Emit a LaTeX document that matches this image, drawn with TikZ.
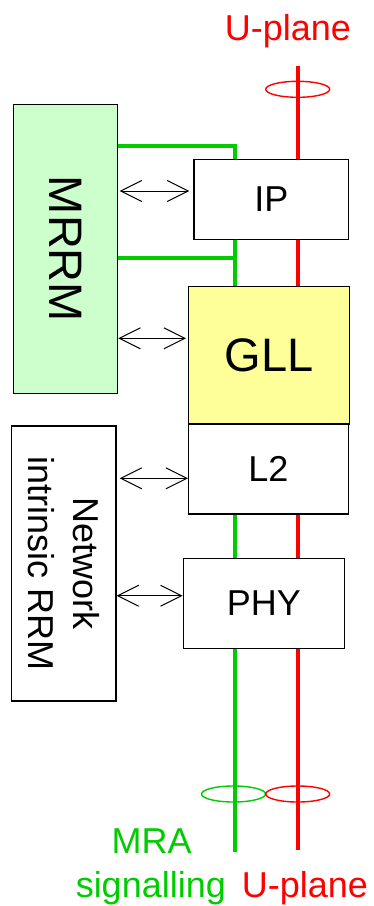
\documentclass[tikz,border=0pt]{standalone}
\usepackage{fontspec}
\setmainfont{Liberation Sans}
\usetikzlibrary{arrows.meta,backgrounds}
\definecolor{sigGreen}{RGB}{0,204,0}
\definecolor{mrrmFill}{RGB}{204,255,204}
\definecolor{gllFill}{RGB}{255,255,153}
\begin{document}
\begin{tikzpicture}[x=1pt,y=-1pt,
  box/.style={draw=black, line width=1.3pt, fill=white, inner sep=0pt, font=\fontsize{36}{45}\selectfont},
  sig/.style={draw=sigGreen, line width=3.6pt},
  upl/.style={draw=red, line width=3.6pt},
  biarrow/.style={line width=1pt, {Straight Barb[length=21pt,width=21pt]}-{Straight Barb[length=21pt,width=21pt]}},
  ring/.style={line width=1.4pt},
  lbl/.style={font=\fontsize{36}{45}\selectfont, inner sep=0pt, anchor=base}]
\useasboundingbox (0,0) rectangle (374,906);

% boxes
\node[box, fill=mrrmFill, minimum width=104.4pt, minimum height=289.4pt,
  label={[rotate=-90, font=\fontsize{47}{56}\selectfont]center:MRRM}] (mrrm) at (65.5,249) {};
\node[box, minimum width=104.3pt, minimum height=275pt,
  label={[rotate=-90, align=center, font=\fontsize{36}{45}\selectfont]center:{Network\\intrinsic RRM}}] (nirrm) at (63.85,563.5) {};
\node[box, minimum width=154.7pt, minimum height=79.6pt] (ip) at (271.3,199.5) {IP};
\node[box, fill=gllFill, minimum width=160.6pt, minimum height=137.3pt, font=\fontsize{47}{56}\selectfont] (gll) at (269,355.3) {GLL};
\node[box, minimum width=159.6pt, minimum height=90pt] (l2) at (268.5,469) {L2};
\node[box, minimum width=161pt, minimum height=90.4pt] (phy) at (263.8,603.5) {PHY};

% planes
\coordinate (gtop) at (235,145.7);
\coordinate (gmid) at (235,257.7);
\coordinate (gbot) at (235,851.7);
\coordinate (rtop) at (297.7,66);
\coordinate (rbot) at (297.7,850);
\begin{scope}[on background layer]
  \draw[red, ring] (297.7,89.3) ellipse [x radius=32pt, y radius=8pt];
  \draw[sigGreen, ring] (233.5,794) ellipse [x radius=32pt, y radius=8pt];
  \draw[red, ring] (297.7,794) ellipse [x radius=32pt, y radius=8pt];
  \draw[sig] (mrrm.east |- gtop) -- (gtop) -- (gbot);
  \draw[sig] (mrrm.east |- gmid) -- (gmid);
  \draw[upl] (rtop) -- (rbot);
\end{scope}

% control arrows
\draw[biarrow, shorten <=1.3pt, shorten >=4pt] (mrrm.east |- 0,191) -- (ip.west |- 0,191);
\draw[biarrow, shorten >=2pt] (mrrm.east |- 0,338.3) -- (gll.west |- 0,338.3);
\draw[biarrow, shorten <=3pt] (nirrm.east |- 0,478.3) -- (l2.west |- 0,478.3);
\draw[biarrow] (nirrm.east |- 0,595.7) -- (phy.west |- 0,595.7);

% labels
\node[lbl, text=red] (uptop) at (288,40) {U-plane};
\node[lbl, text=sigGreen] (mra) at (151.7,853.3) {MRA};
\node[lbl, text=sigGreen] (sigl) at (150.8,897.3) {signalling};
\node[lbl, text=red] (upbot) at (305,897.3) {U-plane};
\end{tikzpicture}
\end{document}
